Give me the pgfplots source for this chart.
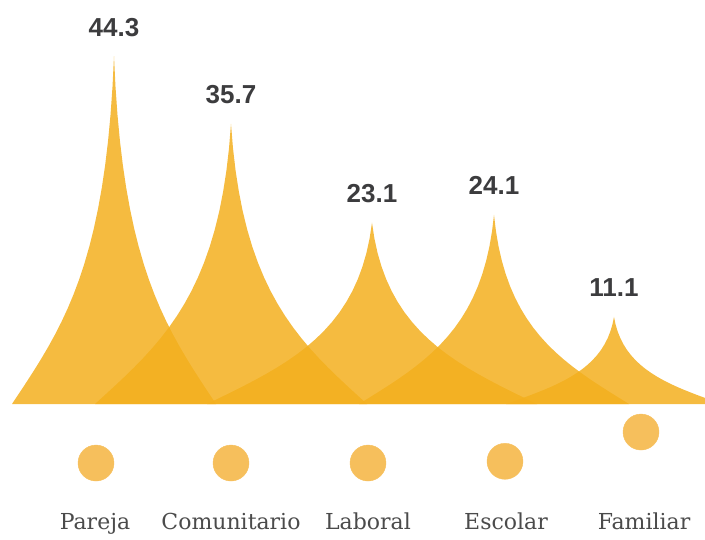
\documentclass[border=0pt]{standalone}
\usepackage{pgfplots}
\pgfplotsset{compat=1.18}
\usepackage{pgfplotstable}
\usepackage{fontspec}
\newfontfamily\valfont{Liberation Sans}
\newfontfamily\catfont{DejaVu Serif}
\definecolor{spike}{RGB}{243,175,30}
\definecolor{dot}{RGB}{246,191,92}
\definecolor{valtxt}{RGB}{60,60,62}
\definecolor{cattxt}{RGB}{75,75,75}

% normalized outline of one spike (u = offset / half-width, f = fraction of peak)
\pgfplotstableread{
u f
-1.0000 0.0000
-0.9256 0.0328
-0.8527 0.0653
-0.7813 0.0979
-0.7117 0.1309
-0.6441 0.1647
-0.5786 0.1996
-0.5155 0.2360
-0.4550 0.2742
-0.3973 0.3146
-0.3425 0.3575
-0.2909 0.4032
-0.2426 0.4522
-0.1978 0.5046
-0.1568 0.5610
-0.1197 0.6215
-0.0867 0.6867
-0.0581 0.7568
-0.0339 0.8321
-0.0145 0.9131
0.0000 1.0000
0.0145 0.9131
0.0339 0.8321
0.0581 0.7568
0.0867 0.6867
0.1197 0.6215
0.1568 0.5610
0.1978 0.5046
0.2426 0.4522
0.2909 0.4032
0.3425 0.3575
0.3973 0.3146
0.4550 0.2742
0.5155 0.2360
0.5786 0.1996
0.6441 0.1647
0.7117 0.1309
0.7813 0.0979
0.8527 0.0653
0.9256 0.0328
1.0000 0.0000
}\shape

\begin{document}
\begin{tikzpicture}
\begin{axis}[
  scale only axis,
  width=705pt, height=539pt,
  xmin=0, xmax=705,
  ymin=-17.197, ymax=51.465,
  hide axis,
  clip=true,
]
\pgfplotsset{spk/.style={draw=none, fill=spike, fill opacity=0.85}}
\addplot[spk] table[x expr=114+102*\thisrow{u}, y expr=44.3*\thisrow{f}] {\shape} \closedcycle;
\addplot[spk] table[x expr=231+136*\thisrow{u}, y expr=35.7*\thisrow{f}] {\shape} \closedcycle;
\addplot[spk] table[x expr=372+165*\thisrow{u}, y expr=23.1*\thisrow{f}] {\shape} \closedcycle;
\addplot[spk] table[x expr=494+135*\thisrow{u}, y expr=24.1*\thisrow{f}] {\shape} \closedcycle;
\addplot[spk] table[x expr=614+108*\thisrow{u}, y expr=11.1*\thisrow{f}] {\shape} \closedcycle;

% value labels
\addplot[draw=none, mark=none,
  point meta=explicit symbolic,
  nodes near coords={\pgfplotspointmeta},
  nodes near coords style={anchor=base, inner sep=0pt, yshift=20pt,
     font=\valfont\bfseries\fontsize{26}{26}\selectfont, text=valtxt}]
  coordinates {(114,44.3) [44.3] (231,35.7) [35.7] (372,23.1) [23.1] (494,24.1) [24.1] (614,11.1) [11.1]};

% dots
\addplot[only marks, mark=*, mark size=18pt, color=dot]
  coordinates {(96,-7.52) (231,-7.52) (368,-7.52) (505,-7.30) (641,-3.57)};

% category labels
\begin{scope}[every node/.style={anchor=base, inner sep=0pt, font=\catfont\fontsize{22}{22}\selectfont, text=cattxt}]
\node at (axis cs:95,-16.05) {Pareja};
\node at (axis cs:231,-16.05) {Comunitario};
\node at (axis cs:368,-16.05) {Laboral};
\node at (axis cs:506,-16.05) {Escolar};
\node at (axis cs:644,-16.05) {Familiar};
\end{scope}
\path (rel axis cs:0,0) rectangle (rel axis cs:1,1);
\end{axis}
\end{tikzpicture}
\end{document}
